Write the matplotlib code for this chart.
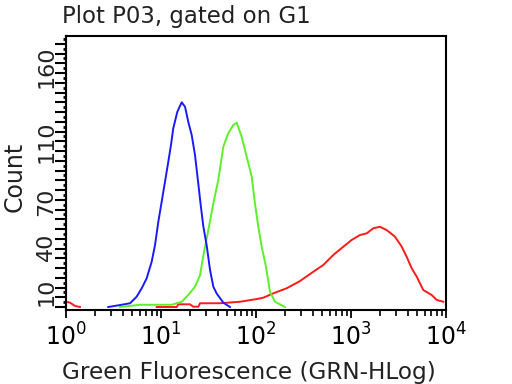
import numpy as np
import matplotlib
matplotlib.use("Agg")
import matplotlib.pyplot as plt
from matplotlib.ticker import MultipleLocator, FixedLocator, NullFormatter

# log10(fluorescence) and counts
blue_log = [0.445, 0.568, 0.674, 0.744, 0.797, 0.849, 0.902, 0.937, 0.972, 1.007,
            1.042, 1.077, 1.105, 1.129, 1.172, 1.218, 1.253, 1.287, 1.323, 1.358,
            1.393, 1.418, 1.445, 1.481, 1.516, 1.551, 1.586, 1.656, 1.726]
blue_cnt = [0, 1.3, 2.5, 6.9, 12.5, 19.1, 30.2, 41.3, 56.9, 70.2,
            83.5, 96.9, 108, 119.1, 130.2, 136.5, 133.5, 123.5, 114.7, 101.3,
            82, 68, 54, 41, 24.7, 13.5, 9, 2.9, 0]

green_log = [0.568, 0.779, 1.113, 1.218, 1.287, 1.358, 1.411, 1.445, 1.498, 1.551,
             1.603, 1.656, 1.708, 1.761, 1.797, 1.849, 1.902, 1.955, 1.989, 2.024,
             2.060, 2.105, 2.147, 2.2, 2.305]
green_cnt = [0, 1.5, 1.5, 3.5, 8, 13.5, 21.3, 34, 51.3, 69.1,
             84.7, 106.9, 115.8, 121.3, 122.9, 113.5, 100.2, 86.9, 69.1, 53.5,
             40.2, 26.9, 10.2, 3.5, 0]

red_log = [0.0, 0.042, 0.095, 0.147, np.nan,
           0.955, 1.165, 1.182, 1.305, 1.34, 1.393, 1.411, 1.621, 1.832, 2.007,
           2.077, 2.182, 2.323, 2.463, 2.603, 2.708, 2.814, 2.919, 3.007, 3.095,
           3.165, 3.235, 3.305, 3.375, 3.463, 3.534, 3.586, 3.639, 3.692, 3.761,
           3.849, 3.902, 3.972]
red_cnt = [3.5, 2.9, 0.7, 0, np.nan,
           0, 0, 1.8, 1.8, 0.2, 0.2, 2.5, 2.5, 3.5, 5.3,
           6.2, 9.1, 12.5, 17.3, 23.5, 28, 34.7, 40.2, 44.7, 48,
           49.1, 52.5, 53.5, 51.3, 46.9, 40.2, 33.5, 25.8, 20.2, 11.3,
           8, 4.7, 3.5]

decades = [0, 1, 2, 3, 4]
y_labels = [10, 40, 70, 110, 160]

fig = plt.figure(figsize=(5.12, 3.84), dpi=100)
ax = fig.add_axes([66 / 512, 1 - 310 / 384, 380 / 512, 274 / 384])

ax.plot(np.power(10.0, red_log), red_cnt, color="#ff1a1a", lw=1.4)
ax.plot(np.power(10.0, green_log), green_cnt, color="#5cf02a", lw=1.4)
ax.plot(np.power(10.0, blue_log), blue_cnt, color="#1a1aff", lw=1.4)

ax.set_xscale("log")
ax.set_xlim(1, 1e4)
ax.set_ylim(-2, 180.7)

ax.set_xticks([10.0 ** d for d in decades])
ax.set_xticklabels([r"$10^{%d}$" % d for d in decades], fontsize=17)
ax.xaxis.set_minor_locator(FixedLocator(
    [m * 10.0 ** d for d in decades[:-1] for m in range(2, 10)]))
ax.xaxis.set_minor_formatter(NullFormatter())
ax.tick_params(axis="x", which="major", length=6, width=1.3, pad=4)
ax.tick_params(axis="x", which="minor", length=4, width=1.2)

# labels on the main axis, dash/dot ticks on a second left axis
ax.set_yticks(y_labels)
ax.set_yticklabels([str(v) for v in y_labels], rotation=90, va="center",
                   fontsize=16, color="#222222")
ax.tick_params(axis="y", length=0, pad=7)
sec = ax.secondary_yaxis("left")
sec.yaxis.set_major_locator(MultipleLocator(6.5))
sec.yaxis.set_minor_locator(MultipleLocator(3.25))
sec.yaxis.set_major_formatter(NullFormatter())
sec.tick_params(which="major", length=8, width=1.5)
sec.tick_params(which="minor", length=2.5, width=2)
sec.spines["left"].set_linewidth(1.5)

for s in ax.spines.values():
    s.set_linewidth(1.5)

fig.text(62 / 512, 1 - 17 / 384, "Plot P03, gated on G1", fontsize=16.5,
         ha="left", va="center", color="#222222")
fig.text(62 / 512, 1 - 372 / 384, "Green Fluorescence (GRN-HLog)", fontsize=16.7,
         ha="left", va="center", color="#222222")
fig.text(15 / 512, 1 - 177 / 384, "Count", fontsize=17, rotation=90,
         ha="center", va="center", color="#222222")

fig.savefig("out.png", dpi=100)
